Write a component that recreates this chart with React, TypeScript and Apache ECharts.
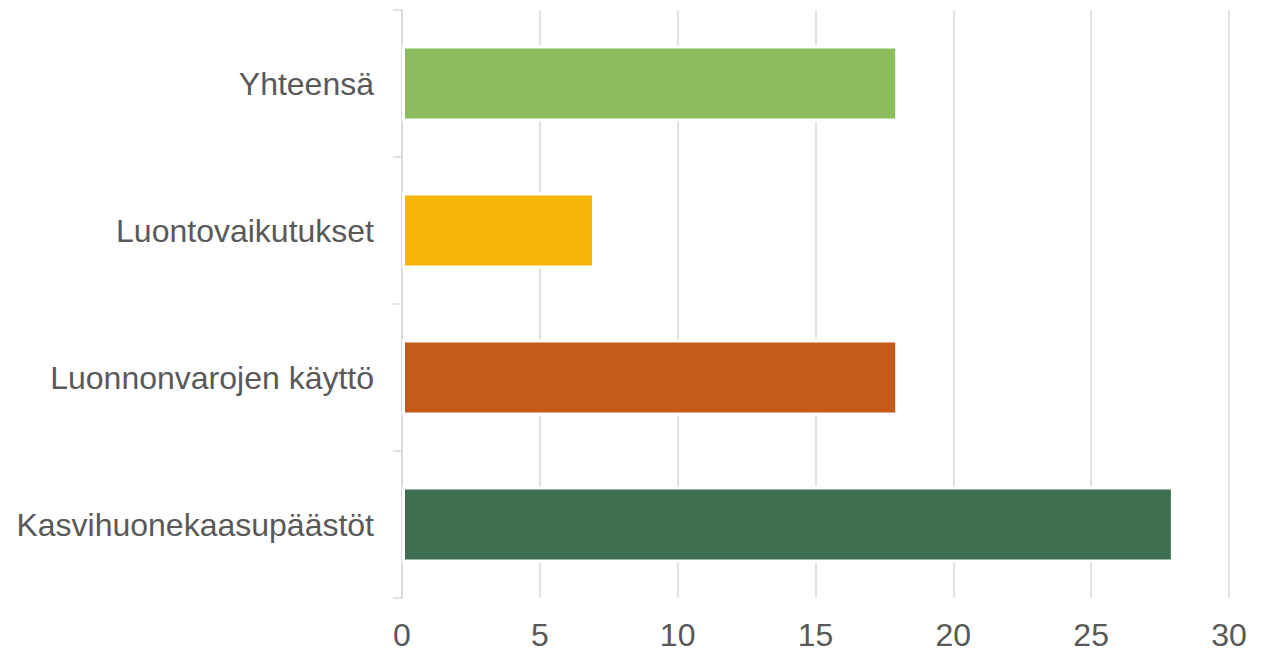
import React, { useEffect, useRef } from "react";
import * as echarts from "echarts";

const categories = ["Yhteensä", "Luontovaikutukset", "Luonnonvarojen käyttö", "Kasvihuonekaasupäästöt"];
const values = [18, 7, 18, 28];
const barColors = ["#8BBD5C", "#F7B307", "#C55A1A", "#3E6F50"];
const xTicks = { min: 0, max: 30, interval: 5 };

export default function App() {
  const ref = useRef<HTMLDivElement>(null);
  useEffect(() => {
    if (!ref.current) return;
    const chart = echarts.init(ref.current, undefined, { renderer: "svg" });
    const font = "Arial, 'Liberation Sans', sans-serif";
    chart.setOption({
      animation: false,
      backgroundColor: "#ffffff",
      grid: { left: 402, right: 39, top: 10, bottom: 54, containLabel: false },
      xAxis: {
        type: "value",
        min: xTicks.min,
        max: xTicks.max,
        interval: xTicks.interval,
        axisLine: { show: false },
        axisTick: { show: false },
        splitLine: { show: true, lineStyle: { color: "#D9D9D9", width: 1.5 } },
        axisLabel: { color: "#595959", fontSize: 32, lineHeight: 26, fontFamily: font, margin: 24 },
      },
      yAxis: {
        type: "category",
        data: categories,
        inverse: true,
        axisLine: { show: true, lineStyle: { color: "#D9D9D9", width: 1.5 } },
        axisTick: { show: true, length: 9, lineStyle: { color: "#D9D9D9", width: 1.5 } },
        splitLine: { show: false },
        axisLabel: { color: "#595959", fontSize: 32, fontFamily: font, margin: 28 },
      },
      series: [
        {
          type: "bar",
          data: values.map((v, i) => ({
            value: v,
            itemStyle: { color: barColors[i] },
          })),
          barWidth: 76,
          itemStyle: { borderColor: "#ffffff", borderWidth: 3 },
        },
      ],
    });
    return () => chart.dispose();
  }, []);
  return (
    <div
      ref={ref}
      style={{ position: "fixed", left: 0, top: 0, width: 1268, height: 652 }}
    />
  );
}
